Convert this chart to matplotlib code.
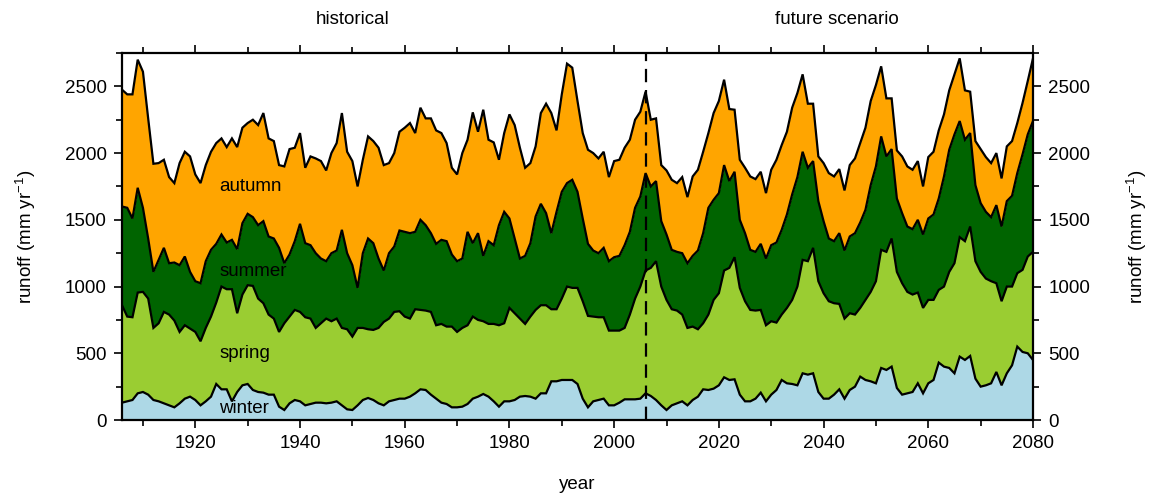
import numpy as np
import matplotlib
matplotlib.use("Agg")
import matplotlib.pyplot as plt
from matplotlib.ticker import MultipleLocator

plt.rcParams['font.family'] = ['Liberation Sans', 'DejaVu Sans']
plt.rcParams['mathtext.fontset'] = 'custom'
plt.rcParams['mathtext.rm'] = 'Liberation Sans'
plt.rcParams['mathtext.it'] = 'Liberation Sans:italic'

years = np.arange(1906, 2081)

# cumulative runoff (mm/yr) at top of each seasonal layer
winter_top = [
    130, 140, 150, 200, 210, 190, 150, 140, 125, 110, 95, 125, 160, 175, 150, 110, 140, 175, 270, 230, 230, 140, 210, 260, 270, 225, 210, 205, 190,
    190, 100, 75, 125, 150, 140, 110, 120, 130, 130, 125, 130, 140, 110, 80, 75, 110, 150, 165, 150, 125, 110, 140, 150, 160, 160, 175, 200, 230,
    225, 190, 160, 130, 120, 95, 95, 100, 120, 160, 175, 195, 175, 140, 100, 140, 140, 150, 175, 180, 175, 160, 200, 200, 290, 290, 300, 300,
    300, 270, 160, 95, 140, 150, 160, 110, 110, 130, 155, 155, 155, 160, 200, 180, 150, 110, 75, 110, 125, 140, 110, 150, 175, 230, 225, 235,
    260, 320, 300, 305, 190, 140, 140, 160, 205, 140, 190, 225, 300, 275, 270, 260, 350, 340, 350, 210, 160, 160, 190, 230, 160, 225, 250, 325, 300,
    290, 275, 390, 375, 400, 240, 190, 200, 210, 275, 200, 275, 300, 430, 400, 390, 350, 475, 450, 480, 310, 250, 260, 275, 360, 260, 350, 410, 550, 510, 500, 450,
]
spring_top = [
    860, 775, 770, 955, 960, 910, 690, 725, 810, 790, 745, 660, 710, 685, 660, 590, 690, 775, 880, 1000, 980, 980, 800, 940, 1010, 1005, 910, 875, 790,
    760, 660, 725, 775, 825, 810, 770, 760, 690, 725, 760, 740, 760, 690, 680, 625, 690, 690, 680, 675, 690, 735, 760, 810, 815, 775, 760, 830, 825,
    820, 810, 710, 720, 700, 700, 660, 690, 710, 775, 750, 740, 720, 720, 710, 725, 840, 800, 760, 720, 775, 825, 860, 860, 830, 830, 910, 1000,
    990, 990, 890, 780, 775, 770, 770, 670, 670, 670, 690, 790, 910, 1000, 1120, 1140, 1190, 1000, 900, 830, 820, 790, 690, 700, 680, 725, 790, 900,
    950, 1120, 1140, 1220, 990, 890, 825, 820, 825, 710, 740, 730, 790, 840, 900, 1000, 1200, 1190, 1290, 1040, 950, 890, 875, 870, 760, 800, 790, 840, 900,
    960, 1040, 1275, 1260, 1360, 1110, 1025, 960, 940, 955, 840, 900, 900, 975, 1000, 1110, 1175, 1370, 1340, 1450, 1190, 1110, 1060, 1040, 1025, 890, 1000, 1000, 1100, 1125, 1225, 1260,
]
summer_top = [
    1600, 1590, 1510, 1740, 1590, 1360, 1110, 1200, 1290, 1175, 1180, 1160, 1225, 1110, 1040, 1025, 1190, 1275, 1320, 1390, 1330, 1350, 1280, 1475, 1545, 1520, 1460, 1490, 1375,
    1360, 1290, 1175, 1240, 1340, 1470, 1325, 1310, 1250, 1210, 1190, 1250, 1270, 1425, 1250, 1160, 990, 1250, 1360, 1325, 1210, 1120, 1250, 1300, 1420, 1410, 1400, 1410, 1500,
    1460, 1400, 1320, 1350, 1340, 1240, 1190, 1210, 1410, 1325, 1400, 1230, 1340, 1310, 1460, 1560, 1510, 1360, 1210, 1230, 1325, 1525, 1620, 1550, 1400, 1560, 1710, 1775,
    1800, 1710, 1510, 1320, 1270, 1250, 1290, 1190, 1220, 1230, 1310, 1410, 1590, 1675, 1850, 1750, 1790, 1490, 1390, 1275, 1260, 1250, 1175, 1230, 1270, 1400, 1590, 1650,
    1700, 1910, 1790, 1860, 1500, 1400, 1275, 1260, 1320, 1210, 1310, 1330, 1425, 1540, 1690, 1820, 2010, 1890, 1940, 1640, 1490, 1360, 1340, 1400, 1270, 1375, 1400, 1480, 1575,
    1760, 1900, 2125, 1975, 2030, 1660, 1550, 1450, 1430, 1500, 1390, 1510, 1540, 1660, 1825, 2025, 2140, 2240, 2100, 2150, 1760, 1625, 1560, 1520, 1610, 1450, 1640, 1680, 1850, 1990, 2140, 2240,
]
autumn_top = [
    2475, 2440, 2440, 2700, 2610, 2260, 1920, 1925, 1950, 1820, 1775, 1925, 2010, 1975, 1840, 1775, 1910, 2010, 2075, 2110, 2045, 2110, 2045, 2190, 2225, 2250, 2210, 2300, 2110,
    2090, 1910, 1900, 2030, 2040, 2150, 1890, 1975, 1960, 1940, 1870, 2000, 2075, 2300, 2010, 1940, 1750, 1950, 2125, 2090, 2040, 1910, 1925, 2000, 2160, 2190, 2225, 2150, 2340,
    2260, 2260, 2170, 2150, 2075, 1890, 1840, 2000, 2100, 2305, 2160, 2325, 2100, 2080, 1950, 2150, 2290, 2210, 2040, 1890, 1925, 2050, 2300, 2370, 2300, 2170, 2440, 2670,
    2640, 2390, 2150, 2025, 2000, 1960, 2010, 1820, 1940, 1950, 2040, 2100, 2250, 2310, 2460, 2250, 2260, 1910, 1870, 1800, 1775, 1820, 1670, 1825, 1875, 2010, 2150, 2300,
    2390, 2550, 2330, 2325, 1950, 1890, 1825, 1805, 1860, 1700, 1875, 1950, 2060, 2160, 2340, 2450, 2590, 2370, 2370, 1975, 1925, 1850, 1825, 1880, 1720, 1910, 1960, 2075, 2190,
    2390, 2510, 2650, 2410, 2410, 2020, 1975, 1900, 1875, 1940, 1750, 1970, 2010, 2170, 2290, 2470, 2590, 2710, 2470, 2460, 2090, 2030, 1970, 1925, 2000, 1810, 2050, 2090, 2225, 2375, 2540, 2710,
]

seasons = ["winter", "spring", "summer", "autumn"]
colors = ["#ADD8E6", "#9ACD32", "#006400", "#FFA500"]
scenario_start = 2006

FS = 13.5

fig = plt.figure(figsize=(11.52, 4.98), dpi=100)
ax = fig.add_axes([0.1059, 0.1566, 0.7908, 0.737])

levels = [np.zeros(len(years))] + [np.array(a, float) for a in (winter_top, spring_top, summer_top, autumn_top)]
for i in range(4):
    ax.fill_between(years, levels[i], levels[i + 1], color=colors[i], linewidth=0)
for i in range(1, 5):
    ax.plot(years, levels[i], color="black", lw=1.6, solid_joinstyle="miter")

ax.axvline(scenario_start, color="black", lw=1.6, dashes=(6, 3.5))

label_pos = {"winter": 90, "spring": 500, "summer": 1110, "autumn": 1750}
for s in seasons:
    ax.text(1924.6, label_pos[s], s, fontsize=FS, va="center", ha="left", color="black")

ax.set_xlim(1906, 2080)
ax.set_ylim(0, 2750)
ax.xaxis.set_major_locator(MultipleLocator(20))
ax.xaxis.set_minor_locator(MultipleLocator(10))
ax.yaxis.set_major_locator(MultipleLocator(500))
ax.yaxis.set_minor_locator(MultipleLocator(250))
ax.tick_params(which="both", direction="out", top=True, right=True, labelright=True,
               labelsize=FS, width=1.2)
ax.tick_params(which="major", length=6, pad=5)
ax.tick_params(which="minor", length=4)
for sp in ax.spines.values():
    sp.set_linewidth(1.6)

ax.set_xlabel("year", fontsize=FS, labelpad=17)
ax.set_ylabel(r"runoff (mm yr$^{-1}$)", fontsize=FS, labelpad=19)
ax2 = ax.secondary_yaxis("right")
ax2.set_yticks([])
ax2.set_ylabel(r"runoff (mm yr$^{-1}$)", fontsize=FS, labelpad=66)
ax2.spines["right"].set_visible(False)

ax.text(1950, 1.09, "historical", transform=ax.get_xaxis_transform(), ha="center", va="center", fontsize=FS)
ax.text(2042.5, 1.09, "future scenario", transform=ax.get_xaxis_transform(), ha="center", va="center", fontsize=FS)

fig.savefig("out.png", dpi=100)
